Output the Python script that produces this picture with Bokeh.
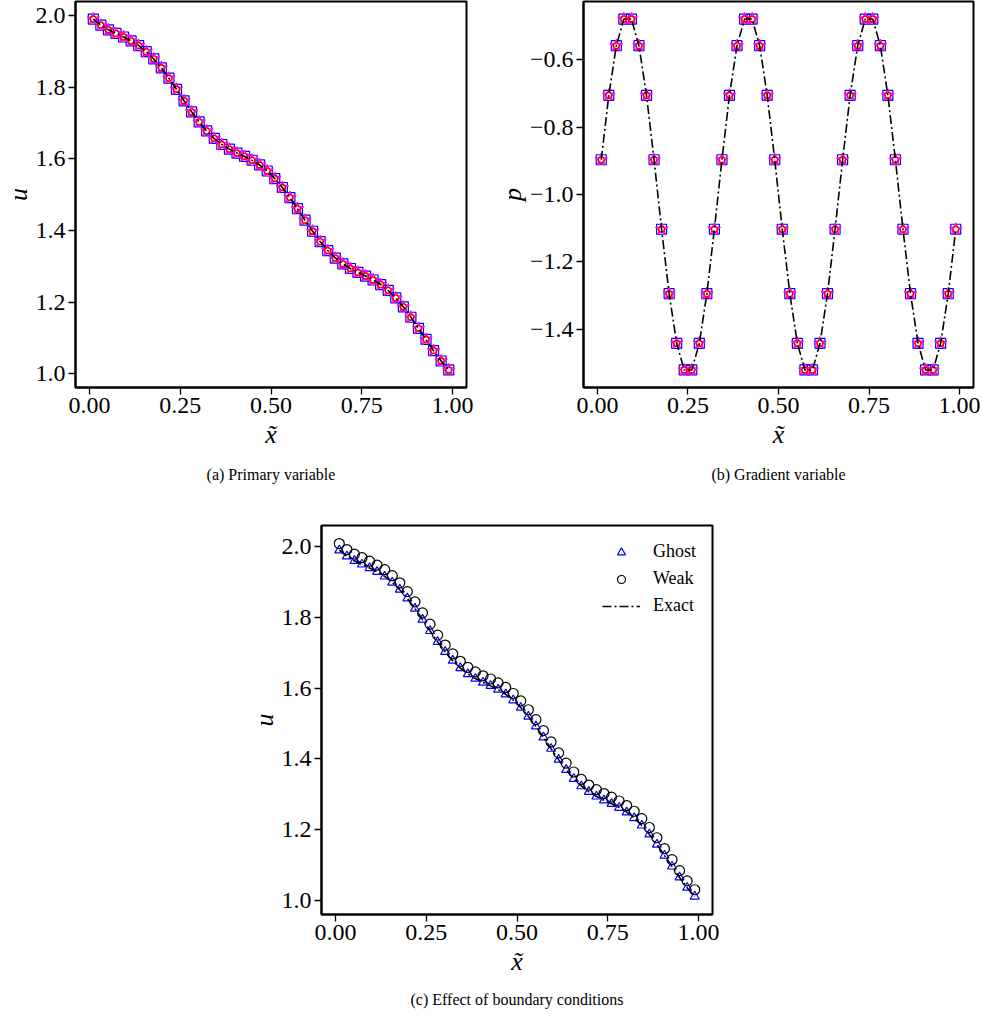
from bokeh.plotting import figure
from bokeh.layouts import column, row
from bokeh.models import (FixedTicker, CustomJSTickFormatter, Range1d, Title,
                          Legend, LegendItem)
from bokeh.embed import file_html
from bokeh.resources import INLINE

# ---------------- data ----------------
x_pts = [0.0104, 0.0313, 0.0521, 0.0729, 0.0938, 0.1146, 0.1354, 0.1563,
         0.1771, 0.1979, 0.2188, 0.2396, 0.2604, 0.2813, 0.3021, 0.3229,
         0.3438, 0.3646, 0.3854, 0.4063, 0.4271, 0.4479, 0.4688, 0.4896,
         0.5104, 0.5313, 0.5521, 0.5729, 0.5938, 0.6146, 0.6354, 0.6563,
         0.6771, 0.6979, 0.7188, 0.7396, 0.7604, 0.7813, 0.8021, 0.8229,
         0.8438, 0.8646, 0.8854, 0.9063, 0.9271, 0.9479, 0.9688, 0.9896]

u_exact = [1.9901, 1.9734, 1.9604, 1.9497, 1.9398, 1.9291, 1.9161, 1.8994,
           1.8786, 1.8536, 1.8249, 1.7940, 1.7622, 1.7312, 1.7026, 1.6776,
           1.6567, 1.6401, 1.6271, 1.6163, 1.6065, 1.5958, 1.5827, 1.5661,
           1.5453, 1.5202, 1.4916, 1.4607, 1.4288, 1.3979, 1.3693, 1.3442,
           1.3234, 1.3068, 1.2937, 1.2830, 1.2732, 1.2624, 1.2494, 1.2328,
           1.2119, 1.1869, 1.1583, 1.1273, 1.0955, 1.0646, 1.0359, 1.0109]

u_ghost = [1.990, 1.973, 1.960, 1.950, 1.940, 1.929, 1.916, 1.899,
           1.879, 1.854, 1.825, 1.794, 1.762, 1.731, 1.703, 1.678,
           1.657, 1.640, 1.627, 1.616, 1.607, 1.596, 1.583, 1.566,
           1.545, 1.520, 1.492, 1.461, 1.429, 1.398, 1.369, 1.344,
           1.323, 1.307, 1.294, 1.283, 1.273, 1.262, 1.249, 1.233,
           1.212, 1.187, 1.158, 1.127, 1.096, 1.065, 1.036, 1.011]

u_weak = [2.009, 1.992, 1.979, 1.969, 1.959, 1.948, 1.935, 1.918,
          1.898, 1.873, 1.844, 1.813, 1.781, 1.750, 1.722, 1.697,
          1.676, 1.659, 1.646, 1.635, 1.626, 1.615, 1.602, 1.585,
          1.564, 1.539, 1.511, 1.480, 1.448, 1.417, 1.388, 1.363,
          1.342, 1.326, 1.313, 1.302, 1.292, 1.281, 1.268, 1.252,
          1.231, 1.206, 1.177, 1.146, 1.115, 1.084, 1.055, 1.030]

p_exact = [-0.897, -0.706, -0.559, -0.480, -0.480, -0.559, -0.706, -0.897,
           -1.103, -1.294, -1.441, -1.520, -1.520, -1.441, -1.294, -1.103,
           -0.897, -0.706, -0.559, -0.480, -0.480, -0.559, -0.706, -0.897,
           -1.103, -1.294, -1.441, -1.520, -1.520, -1.441, -1.294, -1.103,
           -0.897, -0.706, -0.559, -0.480, -0.480, -0.559, -0.706, -0.897,
           -1.103, -1.294, -1.441, -1.520, -1.520, -1.441, -1.294, -1.103]

x_ticks = [0.0, 0.25, 0.5, 0.75, 1.0]
u_ticks = [1.0, 1.2, 1.4, 1.6, 1.8, 2.0]
p_ticks = [-1.4, -1.2, -1.0, -0.8, -0.6]

captions = ["(a) Primary variable", "(b) Gradient variable",
            "(c) Effect of boundary conditions"]
legend_labels = ["Ghost", "Weak", "Exact"]

FONT = "Liberation Serif"
DASHDOT = "9 3 2 3"


def make_fig(ylab, yticks, yfmt, yr, bl, br, bt, bb, fw, fh, caption, cap_off):
    p = figure(output_backend="svg", toolbar_location=None,
               frame_width=fw, frame_height=fh,
               x_range=Range1d(-0.0386, 1.0386), y_range=Range1d(*yr),
               min_border_left=bl, min_border_right=br,
               min_border_top=bt, min_border_bottom=bb,
               background_fill_color="white", border_fill_color="white")
    p.grid.visible = False
    p.outline_line_color = "black"
    p.outline_line_width = 2
    p.outline_line_alpha = 1
    for ax in (p.xaxis[0], p.yaxis[0]):
        ax.axis_line_width = 2
        ax.axis_line_color = "black"
        ax.major_tick_in = 0
        ax.major_tick_out = 7
        ax.major_tick_line_width = 1.3
        ax.minor_tick_line_color = None
        ax.major_label_text_font = FONT
        ax.major_label_text_font_size = "24px"
        ax.major_label_text_color = "black"
        ax.major_label_standoff = 3
        ax.axis_label_text_font = FONT
        ax.axis_label_text_font_size = "26px"
        ax.axis_label_text_font_style = "italic"
        ax.axis_label_text_color = "black"
    p.xaxis.axis_label_standoff = 4
    p.yaxis.axis_label_standoff = 0
    p.xaxis.ticker = FixedTicker(ticks=x_ticks)
    p.xaxis.formatter = CustomJSTickFormatter(code="return tick.toFixed(2);")
    p.yaxis.ticker = FixedTicker(ticks=yticks)
    p.yaxis.formatter = CustomJSTickFormatter(code=yfmt)
    p.xaxis.axis_label = "x\u0303"
    p.yaxis.axis_label = ylab
    p.add_layout(Title(text=caption, align="center", text_font=FONT,
                       text_font_size="16px", text_font_style="normal",
                       text_color="black", standoff=cap_off), "below")
    return p


fmt1 = "return tick.toFixed(1);"
fmtm = "return (tick < 0 ? '\u2212' : '') + Math.abs(tick).toFixed(1);"


def add_three(p, yvals):
    p.scatter(x_pts, yvals, marker="square", size=10, fill_color=None,
              line_color="blue", line_width=1.2)
    p.scatter(x_pts, yvals, marker="star", size=13, fill_color=None,
              line_color="magenta", line_width=1.2)
    p.scatter(x_pts, yvals, marker="circle", size=6, fill_color=None,
              line_color="red", line_width=1.4)


# (a)
pa = make_fig("u", u_ticks, fmt1, (0.962, 2.039), 73, 16, 1, 118, 391, 386,
              captions[0], 24)
add_three(pa, u_ghost)
pa.line(x_pts, u_exact, line_color="black", line_width=1.6, line_dash=DASHDOT)

# (b)
pb = make_fig("p", p_ticks, fmtm, (-1.572, -0.428), 101, 11, 1, 118, 390, 386,
              captions[1], 24)
add_three(pb, p_exact)
pb.line(x_pts, p_exact, line_color="black", line_width=1.6, line_dash=DASHDOT)

# (c)
pc = make_fig("u", u_ticks, fmt1, (0.960, 2.060), 321, 270, 20, 106, 391, 389,
              captions[2], 21)
r_g = pc.scatter(x_pts, u_ghost, marker="triangle", size=9, fill_color=None,
                 line_color="blue", line_width=1.2)
r_w = pc.scatter(x_pts, u_weak, marker="circle", size=10, fill_color=None,
                 line_color="black", line_width=1.2)
r_e = pc.line(x_pts, u_exact, line_color="black", line_width=1.6,
              line_dash=DASHDOT)
leg = Legend(items=[LegendItem(label=legend_labels[0], renderers=[r_g]),
                    LegendItem(label=legend_labels[1], renderers=[r_w]),
                    LegendItem(label=legend_labels[2], renderers=[r_e])],
             location="top_right")
leg.background_fill_alpha = 0
leg.border_line_alpha = 0
leg.label_text_font = FONT
leg.label_text_font_size = "18px"
leg.label_text_color = "black"
leg.glyph_width = 38
leg.glyph_height = 20
leg.label_height = 20
leg.label_standoff = 13
leg.spacing = 6
leg.padding = 8
leg.margin = 8
pc.add_layout(leg)

layout = column(row(pa, pb), pc)
open("out.html", "w").write(file_html(layout, INLINE))
